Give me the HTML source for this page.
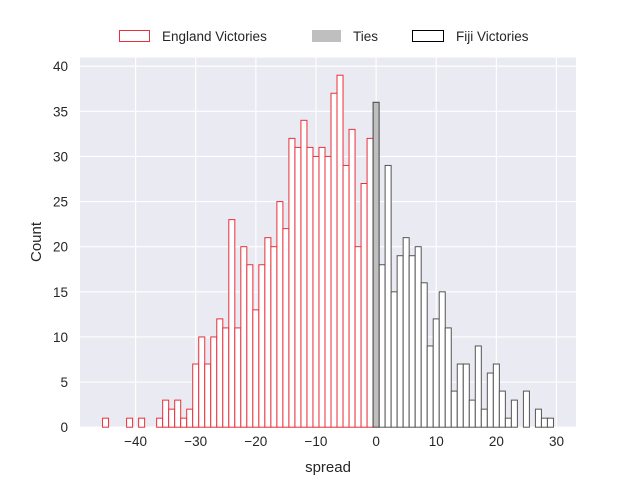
<!DOCTYPE html>
<html><head><meta charset="utf-8"><style>
body{margin:0;background:#fff;}
svg{display:block;font-family:"Liberation Sans","DejaVu Sans",sans-serif;}
</style></head><body>
<svg id="chart" width="640" height="480" viewBox="0 0 640 480" xmlns="http://www.w3.org/2000/svg">
<rect x="80" y="57.6" width="496" height="369.6" fill="#eaeaf2"/>
<g id="grid"></g>
<g id="bars"></g>
<g id="ticks"></g>
<text x="328" y="472" text-anchor="middle" font-size="15" fill="#262626">spread</text>
<text transform="translate(41,242) rotate(-90)" text-anchor="middle" font-size="15" fill="#262626">Count</text>
<g>
<rect x="119.5" y="30.5" width="30" height="11" fill="#fff" stroke="#e8303a" stroke-width="1"/>
<text x="162" y="41" font-size="13.5" fill="#262626">England Victories</text>
<rect x="312" y="30" width="29" height="12" fill="#bfbfbf"/>
<text x="353" y="41" font-size="13.5" fill="#262626">Ties</text>
<rect x="412.5" y="30.5" width="31" height="11" fill="#fff" stroke="#000" stroke-width="1"/>
<text x="456" y="41" font-size="13.5" fill="#262626">Fiji Victories</text>
</g>
</svg>
<script>
const englandBins = [-45,-44,-43,-42,-41,-40,-39,-38,-37,-36,-35,-34,-33,-32,-31,-30,-29,-28,-27,-26,-25,-24,-23,-22,-21,-20,-19,-18,-17,-16,-15,-14,-13,-12,-11,-10,-9,-8,-7,-6,-5,-4,-3,-2,-1];
const englandCounts = [1,0,0,0,1,0,1,0,0,1,3,2,3,1,2,7,10,7,10,12,11,23,11,20,18,13,18,21,20,25,22,32,31,34,31,30,31,30,37,39,29,33,20,27,32];
const tieBins = [0];
const tieCounts = [36];
const fijiBins = [1,2,3,4,5,6,7,8,9,10,11,12,13,14,15,16,17,18,19,20,21,22,23,24,25,26,27,28,29];
const fijiCounts = [18,29,15,19,21,19,20,16,9,12,15,11,4,7,7,3,9,2,6,7,4,1,3,0,4,0,2,1,1];
const xTicks = [-40,-30,-20,-10,0,10,20,30];
const yTicks = [0,5,10,15,20,25,30,35,40];

const NS = "http://www.w3.org/2000/svg";
const L=80,R=576,T=57.6,B=427.2;
const xMin=-49.25,xMax=33.25,yMax=40.95;
const xs=v=>L+(v-xMin)/(xMax-xMin)*(R-L);
const ys=v=>B-v/yMax*(B-T);
function mk(tag,attrs,parent){const e=document.createElementNS(NS,tag);for(const k in attrs)e.setAttribute(k,attrs[k]);parent.appendChild(e);return e;}
const grid=document.getElementById('grid'),bars=document.getElementById('bars'),ticks=document.getElementById('ticks');
xTicks.forEach(t=>{
  const l=mk('line',{x1:xs(t),x2:xs(t),y1:T,y2:B,stroke:'#fff','stroke-width':1.1},grid);
  
  
  const tx=mk('text',{x:xs(t),y:446,'text-anchor':'middle','font-size':13.5,fill:'#262626'},ticks);
  
  
  tx.textContent=(t<0?'\u2212'+(-t):t);
});
yTicks.forEach(t=>{
  const l=mk('line',{x1:L,x2:R,y1:ys(t),y2:ys(t),stroke:'#fff','stroke-width':1.1},grid);
  
  
  const tx=mk('text',{x:68,y:ys(t)+5,'text-anchor':'end','font-size':13.5,fill:'#262626'},ticks);
  
  
  tx.textContent=t;
});
function draw(bins,counts,fill,stroke,name){
  bins.forEach((b,i)=>{
    const c=counts[i]; if(!c) return;
    const x0=xs(b-0.5),x1=xs(b+0.5);
    const r=mk('rect',{x:x0,y:ys(c),width:x1-x0,height:ys(0)-ys(c),fill:fill,stroke:stroke,'stroke-width':1},bars);
    
    
  });
}
draw(englandBins,englandCounts,'#fff','#e8303a','bar-england');
draw(fijiBins,fijiCounts,'#fff','#555','bar-fiji');
draw(tieBins,tieCounts,'#bfbfbf','#444','bar-tie');
</script>
</body></html>
